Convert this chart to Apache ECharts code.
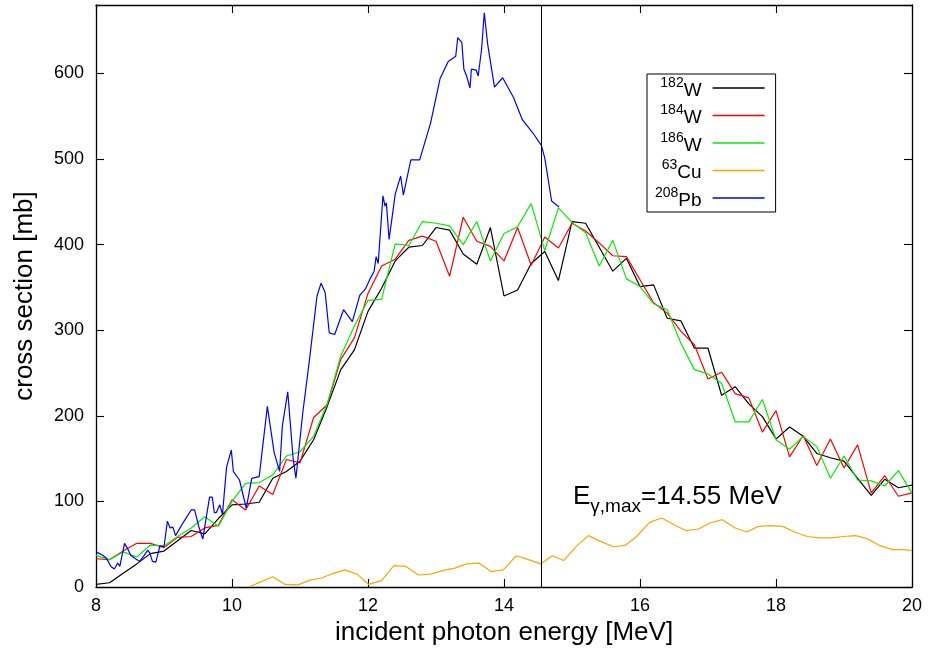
<!DOCTYPE html>
<html><head><meta charset="utf-8">
<script src="https://cdn.jsdelivr.net/npm/echarts@6/dist/echarts.min.js"></script>
<style>html,body{margin:0;padding:0;background:#fff}#c{width:929px;height:653px}</style>
</head><body><div id="c"></div>
<script>
const energyW = [8.0,8.2,8.4,8.6,8.8,9.0,9.2,9.4,9.6,9.8,10.0,10.2,10.4,10.6,10.8,11.0,11.2,11.4,11.6,11.8,12.0,12.2,12.4,12.6,12.8,13.0,13.2,13.4,13.6,13.8,14.0,14.2,14.4,14.6,14.8,15.0,15.2,15.4,15.6,15.8,16.0,16.2,16.4,16.6,16.8,17.0,17.2,17.4,17.6,17.8,18.0,18.2,18.4,18.6,18.8,19.0,19.2,19.4,19.6,19.8,20.0];
const w182 = [3,5,16,27,39,42,54,66,62,80,96,97,99,127,135,147,172,211,254,277,322,349,381,397,399,420,417,389,377,420,340,347,378,392,358,427,425,397,369,384,351,353,314,311,279,279,224,234,214,199,173,187,176,156,151,147,127,107,126,116,119];
const w184 = [33,32,42,51,51,46,58,59,69,72,102,90,118,108,149,145,198,213,266,291,343,375,383,405,410,404,363,432,404,398,381,420,376,409,396,425,416,402,387,386,359,332,320,299,283,243,251,226,221,181,206,152,177,142,173,139,166,110,130,106,110];
const w186 = [37,32,41,35,49,48,59,69,82,71,100,121,122,131,153,158,176,214,270,305,335,336,401,399,427,425,422,400,427,381,413,421,448,393,443,426,414,375,405,360,351,331,324,285,254,249,238,193,193,219,172,161,176,164,127,153,125,124,118,136,110];
const energyCu = [10.25,10.42,10.6,10.78,10.97,11.15,11.32,11.49,11.66,11.84,12.01,12.2,12.38,12.56,12.74,12.92,13.11,13.28,13.45,13.63,13.81,13.99,14.18,14.36,14.54,14.71,14.88,15.07,15.24,15.43,15.61,15.78,15.95,16.14,16.32,16.5,16.68,16.86,17.03,17.21,17.4,17.57,17.74,17.92,18.1,18.27,18.46,18.64,18.82,18.99,19.17,19.34,19.53,19.71,19.88,20.0];
const cu63 = [0,6,12,3,2.5,8,10.5,16,20,15,3,7.5,25,24,14,15,19.5,22,27,28,18,20,36.5,32,27,36.5,31,48,60,53,47,48.6,59,75.5,80.6,72.8,65.8,67.8,74.8,78.7,69,64.3,70.8,71.6,70.8,64.3,59,57.3,57.3,59,60,56.5,48.3,43.6,43.6,42.4];
const energyPb = [8.0,8.1,8.15,8.22,8.27,8.32,8.35,8.42,8.47,8.51,8.58,8.64,8.71,8.76,8.79,8.83,8.88,8.94,9.0,9.05,9.09,9.13,9.17,9.28,9.4,9.45,9.51,9.57,9.67,9.71,9.74,9.77,9.82,9.86,9.92,9.99,10.02,10.11,10.21,10.29,10.4,10.52,10.62,10.7,10.74,10.82,10.9,10.94,11.04,11.14,11.25,11.31,11.37,11.43,11.51,11.64,11.77,11.88,11.96,12.03,12.09,12.12,12.15,12.22,12.25,12.27,12.31,12.36,12.4,12.48,12.52,12.63,12.76,12.92,13.06,13.18,13.29,13.32,13.38,13.41,13.45,13.5,13.52,13.59,13.62,13.67,13.71,13.76,13.86,13.98,14.14,14.27,14.42,14.55,14.6,14.7,14.81];
const pb208 = [41,37,34,24,21,28,24,51,44,37,33,30,37,43,40,30,29,48,47,77,69,70,60,75,90,90,71,56,105,105,87,87,96,85,140,160,135,125,92,127,129,211,157,135,188,228,149,127,203,266,340,355,344,297,295,324,310,341,348,360,369,386,378,457,445,449,406,435,459,480,458,499,499,542,594,614,620,642,636,605,597,583,605,604,597,628,671,634,584,595,572,546,531,516,501,451,444];
const seriesNames = ['182W','184W','186W','63Cu','208Pb'];
const yTickLabels = [0,100,200,300,400,500,600];
const ePeak = 14.55;

const FF = '"Liberation Sans", Arial, Helvetica, sans-serif';
const zip = (xs, ys) => xs.map((x, i) => [x, ys[i]]);
const axisLine = {show: true, onZero: false, lineStyle: {color: '#000', width: 1.3}};
const tick = {show: true, inside: true, length: 8, lineStyle: {color: '#000', width: 1.1}};

const chart = echarts.init(document.getElementById('c'), null, {renderer: 'canvas'});
const mkLine = (name, xs, ys, color, extra) => Object.assign({
  name, type: 'line', data: zip(xs, ys), showSymbol: false, symbol: 'none',
  lineStyle: {color, width: 1.2}, itemStyle: {color}, animation: false, z: 2
}, extra || {});

chart.setOption({
  animation: false,
  backgroundColor: '#fff',
  grid: {left: 96, right: 17, top: 5, bottom: 66, show: false},
  xAxis: [
    {type: 'value', min: 8, max: 20, interval: 2, position: 'bottom',
     axisLine, axisTick: tick, splitLine: {show: false},
     axisLabel: {margin: 10, fontSize: 18, color: '#000', fontFamily: FF},
     name: 'incident photon energy [MeV]', nameLocation: 'middle', nameGap: 32,
     nameTextStyle: {fontSize: 26, color: '#000', fontFamily: FF}},
    {type: 'value', min: 8, max: 20, interval: 2, position: 'top',
     axisLine, axisTick: tick, splitLine: {show: false}, axisLabel: {show: false}}
  ],
  yAxis: [
    {type: 'value', min: 0, max: 680, interval: 100, position: 'left',
     axisLine, axisTick: tick, splitLine: {show: false},
     axisLabel: {margin: 12, fontSize: 18, color: '#000', fontFamily: FF, showMaxLabel: false,
       formatter: v => yTickLabels.includes(v) ? String(v) : ''},
     name: 'cross section [mb]', nameLocation: 'middle', nameGap: 58,
     nameTextStyle: {fontSize: 26, color: '#000', fontFamily: FF}},
    {type: 'value', min: 0, max: 680, interval: 100, position: 'right',
     axisLine, axisTick: tick, splitLine: {show: false}, axisLabel: {show: false}}
  ],
  legend: {
    orient: 'vertical', left: 647, top: 74, align: 'right',
    padding: [2, 11, 2, 8], itemGap: 3.5, itemWidth: 52, itemHeight: 1.5, icon: 'rect',
    borderColor: '#000', borderWidth: 1, backgroundColor: '#fff',
    data: seriesNames,
    formatter: n => { const m = n.match(/^(\d+)(\D+)$/); return '{sup|' + m[1] + '}{base|' + m[2] + '}'; },
    textStyle: {color: '#000', fontFamily: FF, padding: [0, 6, 0, 0],
      rich: {
        sup: {fontSize: 14, lineHeight: 10, verticalAlign: 'top', fontFamily: FF, color: '#000'},
        base: {fontSize: 19, lineHeight: 24, verticalAlign: 'bottom', fontFamily: FF, color: '#000'}
      }}
  },
  graphic: [{
    type: 'text', left: 573, top: 484, z: 10,
    style: {
      text: '{e|E}{sub|γ,max}{e|=' + ePeak.toFixed(2) + ' MeV}',
      fill: '#000', fontFamily: FF,
      rich: {
        e: {fontSize: 26, lineHeight: 32, verticalAlign: 'top', fontFamily: FF, fill: '#000'},
        sub: {fontSize: 19, lineHeight: 12.6, verticalAlign: 'bottom', fontFamily: FF, fill: '#000'}
      }
    }
  }],
  series: [
    mkLine('182W', energyW, w182, '#000000'),
    mkLine('184W', energyW, w184, '#ff0000'),
    mkLine('186W', energyW, w186, '#00ee00'),
    mkLine('63Cu', energyCu, cu63, '#ffa500', {
      markLine: {silent: true, symbol: ['none', 'none'], animation: false,
        label: {show: false}, lineStyle: {color: '#000', width: 1, type: 'solid'},
        data: [{xAxis: ePeak}]}
    }),
    mkLine('208Pb', energyPb, pb208, '#0000ff')
  ]
});
</script>
</body></html>
